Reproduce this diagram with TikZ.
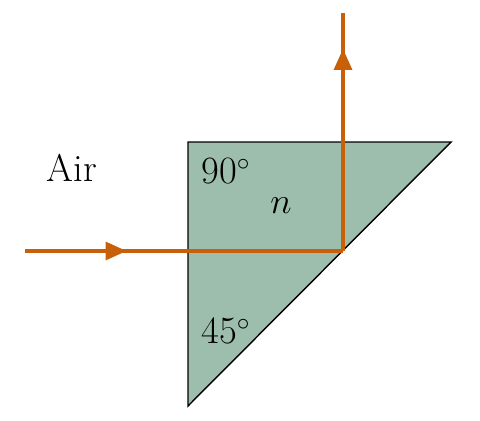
\documentclass[tikz,border=0pt]{standalone}
\usetikzlibrary{arrows.meta,decorations.markings}
\definecolor{prismfill}{HTML}{9DBDAD}
\definecolor{rayorange}{HTML}{C8600A}
\tikzset{
  ray/.style={draw=rayorange, line width=2.3pt},
  midarrow/.style={postaction={decorate}, decoration={markings,
    mark=at position #1 with {\arrow{Triangle[length=12pt,width=10pt]}}}},
  lbl/.style={font=\fontsize{22}{26}\selectfont, inner sep=0pt}
}
\begin{document}
\begin{tikzpicture}[x=0.02cm, y=-0.02cm]
\useasboundingbox (0,0) rectangle (480,420);
% prism
\coordinate (P1) at (188,142);
\coordinate (P2) at (451,142);
\coordinate (P3) at (188,406);
\draw[fill=prismfill, line width=0.8pt, line join=miter] (P1) -- (P2) -- (P3) -- cycle;
% ray
\coordinate (src) at (25,251);
\coordinate (hit) at (343,251);
\coordinate (out) at (343,13);
\draw[ray, midarrow=0.32] (src) -- (hit);
\draw[ray, midarrow=0.85] (hit) -- (out);
% labels
\node[lbl] (air) at (72,168) {Air};
\node[lbl] (top) at (226,171) {90$^\circ$};
\node[lbl] (idx) at (281,206) {$n$};
\node[lbl] (bot) at (226,331) {45$^\circ$};
\end{tikzpicture}
\end{document}
